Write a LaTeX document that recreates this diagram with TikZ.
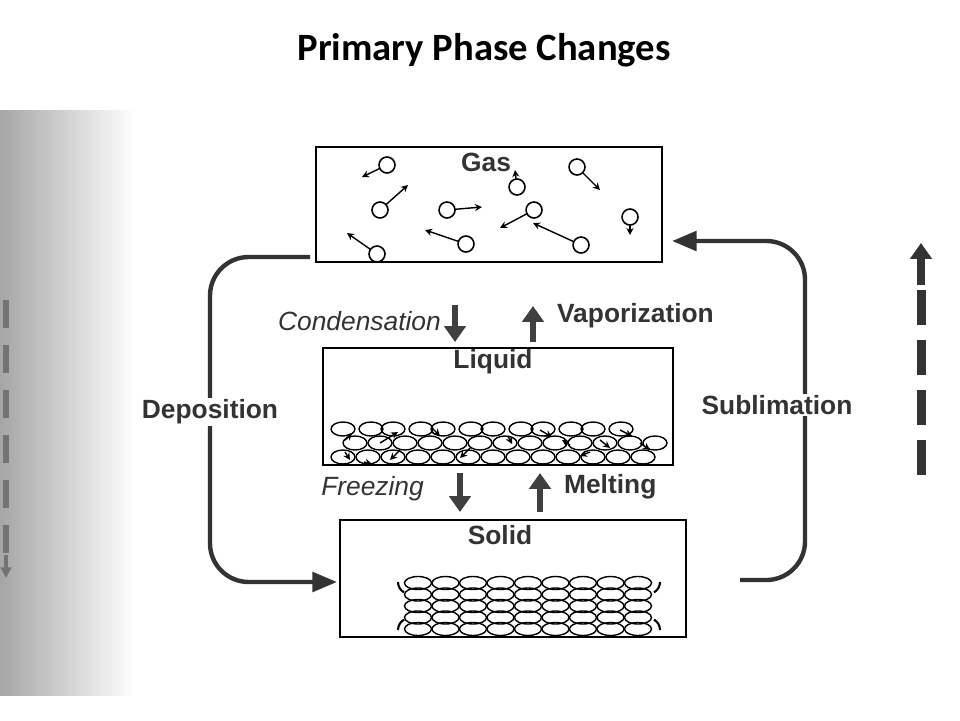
\documentclass[tikz,border=0pt]{standalone}
\usepackage{fontspec}
\setmainfont{Liberation Sans}
\newfontfamily\titlefont{Carlito}
\usetikzlibrary{arrows.meta}
\tikzset{
  phasebox/.style={draw, line width=1pt},
  phaselabel/.style={font=\bfseries\fontsize{15}{17}\selectfont, text=black!80},
  sidelabel/.style={font=\bfseries\fontsize{15}{17}\selectfont, text=black!80, fill=white, inner sep=1pt},
  steplabel/.style={font=\itshape\fontsize{15}{17}\selectfont, text=black!80},
  bigarrow/.style={line width=3.5pt, black!75, -{Triangle[length=9pt,width=12pt]}},
  looparrow/.style={line width=2.5pt, black!80, rounded corners=22pt, -{Triangle[length=14pt,width=11pt]}},
  molecule/.style={draw, line width=0.9pt, fill=white},
  kick/.style={line width=0.8pt, -{Stealth[length=4pt,width=4pt]}}
}
\begin{document}
\begin{tikzpicture}[x=0.02cm, y=-0.02cm]
  \useasboundingbox (0,0) rectangle (960,720);
  % scanned page margin
  \shade[left color=black!35, right color=white] (0,110) rectangle (135,695);
  \foreach \yy in {300,345,390,435,480,525} \fill[black!55] (3,\yy) rectangle (9,\yy+28);
  \draw[line width=2pt, black!55, -{Triangle[length=6pt,width=6pt]}] (6,555) -- (6,578);
  \foreach \yy in {290,340,390,440} \fill[black!80] (917,\yy) rectangle (926,\yy+35);
  \draw[line width=4pt, black!80, -{Triangle[length=9pt,width=12pt]}] (921,285) -- (921,243);
  % title
  \node (title) at (484,50) {\titlefont\bfseries\fontsize{22}{24}\selectfont Primary Phase Changes};
  % boxes
  \draw[phasebox] (316,147) rectangle (662,262);
  \draw[phasebox] (323,348) rectangle (673,465);
  \draw[phasebox] (340,520) rectangle (686,637);
  \node[phaselabel] (gas) at (486,162) {Gas};
  \node[phaselabel] (liquid) at (493,362) {Liquid};
  \node[phaselabel] (solid) at (500,535) {Solid};
  % gas molecules
  \foreach \cx/\cy/\tx/\ty in {387/165/362/177, 517/187/515/170, 577/167/600/190,
      380/210/408/185, 447/210/482/207, 534/210/500/228, 630/217/630/235,
      466/244/425/230, 377/254/347/233, 581/245/533/223} {
    \draw[kick] (\cx,\cy) -- (\tx,\ty);
    \draw[molecule] (\cx,\cy) circle [radius=8];
  }
  % liquid particles
  \foreach \i in {0,...,12} {
    \draw[line width=0.8pt] (343+25*\i,457) ellipse [x radius=12, y radius=7];
    \draw[line width=0.8pt] (355+25*\i,443) ellipse [x radius=12, y radius=7];
  }
  \foreach \i in {0,...,11}
    \draw[line width=0.8pt] ({343+25*\i+3*mod(\i,2)},429) ellipse [x radius=12, y radius=7];
  \foreach \ax/\ay/\bx/\by in {345/440/352/433, 345/452/350/460, 380/443/398/432, 400/450/390/460,
      432/428/440/436, 470/448/460/458, 508/436/512/444, 540/430/552/437, 590/452/580/456,
      600/440/610/448, 620/430/632/436, 640/443/650/450, 570/445/562/440, 364/462/372/464}
    \draw[kick] (\ax,\ay) -- (\bx,\by);
  % solid lattice
  \foreach \i in {0,...,8}
    \foreach \j in {0,...,4}
      \draw[line width=0.8pt] (418+27.5*\i,583+11.5*\j) ellipse [x radius=13.5, y radius=6.5];
  \foreach \sx/\sy/\ang in {410/582/150, 648/582/30, 410/630/210, 648/630/330}
    \draw[line width=1.2pt] (\sx,\sy) ++(\ang-30:12) arc [start angle=\ang-30, end angle=\ang+30, radius=12];
  % vertical transitions
  \draw[bigarrow] (455,305) -- (455,342);
  \draw[bigarrow] (533,342) -- (533,306);
  \draw[bigarrow] (460,473) -- (460,512);
  \draw[bigarrow] (540,512) -- (540,473);
  \node[steplabel, anchor=east] (cond) at (447,321) {Condensation};
  \node[sidelabel, anchor=west] (vap) at (555,316) {Vaporization};
  \node[steplabel, anchor=east] (freeze) at (430,489) {Freezing};
  \node[sidelabel, anchor=west] (melt) at (562,487) {Melting};
  % outer loops
  \draw[looparrow] (310,257) -- (210,257) -- (210,582) -- (337,582);
  \draw[looparrow] (740,580) -- (805,580) -- (805,241) -- (672,241);
  \node[sidelabel] (depo) at (210,412) {Deposition};
  \node[sidelabel] (subl) at (777,405) {Sublimation};
\end{tikzpicture}
\end{document}
